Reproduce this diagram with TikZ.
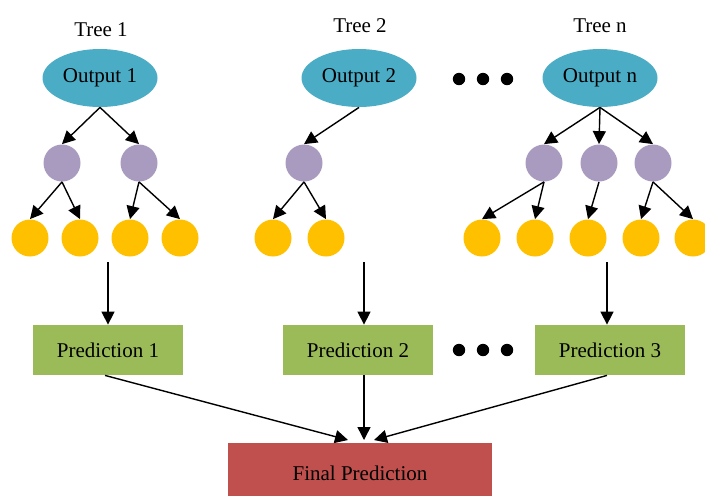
\documentclass[tikz,border=0pt]{standalone}
\usepackage{fontspec}
\setmainfont{Liberation Serif}
\usetikzlibrary{arrows.meta,shapes.geometric}
\definecolor{outblue}{HTML}{4BACC6}
\definecolor{splitpurple}{HTML}{A99BBF}
\definecolor{leafyellow}{HTML}{FFC000}
\definecolor{predgreen}{HTML}{9BBB59}
\definecolor{finalred}{HTML}{C0504D}

\begin{document}
\begin{tikzpicture}[x=0.5pt,y=-0.5pt,
    every node/.style={font=\fontsize{10.5}{12}\selectfont},
    outnode/.style={ellipse,fill=outblue,minimum width=57.5pt,minimum height=29pt,inner sep=0pt},
    splitnode/.style={circle,fill=splitpurple,minimum size=18.5pt,inner sep=0pt},
    leafnode/.style={circle,fill=leafyellow,minimum size=18.5pt,inner sep=0pt},
    predbox/.style={rectangle,fill=predgreen,minimum width=75pt,minimum height=25pt},
    finalbox/.style={rectangle,fill=finalred,minimum width=132pt,minimum height=30pt},
    bigdot/.style={circle,fill=black,minimum size=6.2pt,inner sep=0pt},
    arr/.style={-{Triangle[length=6.5pt,width=6.5pt]},line width=0.7pt}]
        \clip (0,0) rectangle (705,495);
        % tree titles
        \node[anchor=base](t1)at(101,36){Tree 1};
        \node[anchor=base](t2)at(360,32){Tree 2};
        \node[anchor=base](tn)at(600,32){Tree n};
        % outputs
        \node[outnode](out1)at(100,78){Output 1};
        \node[outnode](out2)at(359,78){Output 2};
        \node[outnode](outn)at(600,78){Output n};
        \node[bigdot](d1)at(459,79){};
        \node[bigdot](d2)at(483,79){};
        \node[bigdot](d3)at(507,79){};
        % tree 1
        \node[splitnode](s11)at(62,163){};
        \node[splitnode](s12)at(139,163){};
        \node[leafnode](l11)at(30,238){};
        \node[leafnode](l12)at(80,238){};
        \node[leafnode](l13)at(130,238){};
        \node[leafnode](l14)at(180,238){};
        \draw[arr] (out1.south)--(s11.north);
        \draw[arr] (out1.south)--(s12.north);
        \draw[arr] (s11.south)--(l11.north);
        \draw[arr] (s11.south)--(l12.north);
        \draw[arr] (s12.south)--(l13.north);
        \draw[arr] (s12.south)--(l14.north);
        % tree 2
        \node[splitnode](s21)at(304,163){};
        \node[leafnode](l21)at(273,238){};
        \node[leafnode](l22)at(326,238){};
        \draw[arr] (out2.south)--(s21.north);
        \draw[arr] (s21.south)--(l21.north);
        \draw[arr] (s21.south)--(l22.north);
        % tree n
        \node[splitnode](sn1)at(544,163){};
        \node[splitnode](sn2)at(599,163){};
        \node[splitnode](sn3)at(653,163){};
        \node[leafnode](ln1)at(482,238){};
        \node[leafnode](ln2)at(535,238){};
        \node[leafnode](ln3)at(588,238){};
        \node[leafnode](ln4)at(641,238){};
        \node[leafnode](ln5)at(693,238){};
        \draw[arr] (outn.south)--(sn1.north);
        \draw[arr] (outn.south)--(sn2.north);
        \draw[arr] (outn.south)--(sn3.north);
        \draw[arr] (sn1.south)--(ln1.north);
        \draw[arr] (sn1.south)--(ln2.north);
        \draw[arr] (sn2.south)--(ln3.north);
        \draw[arr] (sn3.south)--(ln4.north);
        \draw[arr] (sn3.south)--(ln5.north);
        % predictions
        \node[predbox](pred1)at(108,350){Prediction 1};
        \node[predbox](pred2)at(358,350){Prediction 2};
        \node[predbox](pred3)at(610,350){Prediction 3};
        \node[bigdot](d4)at(459,350){};
        \node[bigdot](d5)at(483,350){};
        \node[bigdot](d6)at(507,350){};
        \node[finalbox](final)at(360,473){Final Prediction};
        \coordinate (a1) at (108,262);
        \coordinate (a2) at (364,262);
        \coordinate (a3) at (607,262);
        \coordinate (e1) at (348,440);
        \coordinate (e2) at (364,440);
        \coordinate (e3) at (374,440);
        \draw[arr] (a1)--(a1 |- pred1.north);
        \draw[arr] (a2)--(a2 |- pred2.north);
        \draw[arr] (a3)--(a3 |- pred3.north);
        \draw[arr] ([xshift=-1.5pt]pred1.south)--(e1);
        \draw[arr] (a2 |- pred2.south)--(e2);
        \draw[arr] (a3 |- pred3.south)--(e3);
    \end{tikzpicture}
\end{document}
